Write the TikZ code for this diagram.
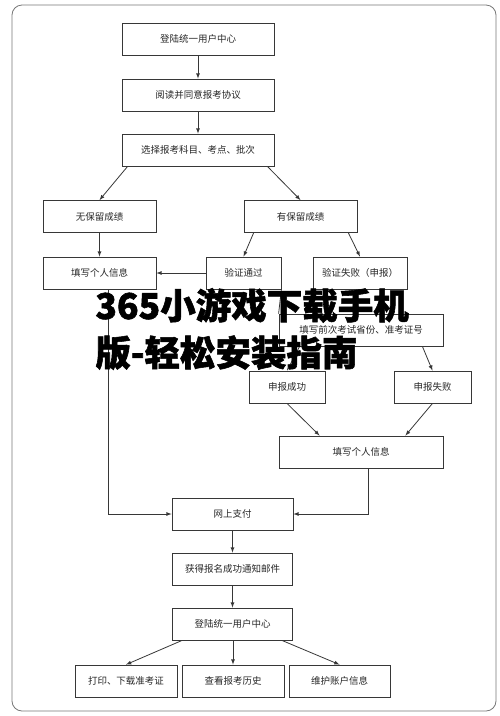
\documentclass[tikz,border=0pt]{standalone}
\usepackage{fontspec}
\usepackage{tikz}
\newfontfamily\cjk{Noto Sans CJK SC}
\newfontfamily\cjkfett[BoldFeatures={FakeBold=1.6}]{Noto Sans CJK SC}
\definecolor{liniengrau}{RGB}{55, 55, 55}
\definecolor{rahmengrau}{RGB}{120, 120, 120}
\tikzset{kasten/.style={draw=liniengrau, line width=0.8pt, minimum height=32, inner sep=0pt, text=black!85}}

\begin{document}
\begin{tikzpicture}[x=1pt, y=-1pt, >=latex, font=\cjk\fontsize{9.5}{11}\selectfont, line width=0.8pt]
				%Rahmen zeichnen
				\useasboundingbox (0,0) rectangle (500,716);
				\draw[rahmengrau, rounded corners=10pt] (12,5) rectangle (496,711);
				% Kaesten oben
				\node[kasten, minimum width=152] (login)   at (198,39)  {登陆统一用户中心};
				\node[kasten, minimum width=152] (lesen)   at (198,95)  {阅读并同意报考协议};
				\node[kasten, minimum width=152] (wahl)    at (198,150) {选择报考科目、考点、批次};
				\node[kasten, minimum width=113] (ohne)    at (99.5,216.5)  {无保留成绩};
				\node[kasten, minimum width=113] (mit)     at (300.5,216.5) {有保留成绩};
				% Kaesten Mitte
				\node[kasten, minimum width=113] (infol)   at (99.5,273) {填写个人信息};
				\node[kasten, minimum width=75]  (ok)      at (243.5,273) {验证通过};
				\node[kasten, minimum width=94]  (fehler)  at (360,273)  {验证失败（申报）};
				\node[kasten, minimum width=164] (vorher)  at (361,330)  {填写前次考试省份、准考证号};
				\node[kasten, minimum width=76]  (erfolg)  at (287,387)  {申报成功};
				\node[kasten, minimum width=77]  (misserf) at (432.5,387) {申报失败};
				\node[kasten, minimum width=164] (infor)   at (361,452)  {填写个人信息};
				% Kaesten unten
				\node[kasten, minimum width=121] (zahlen)  at (232.5,514) {网上支付};
				\node[kasten, minimum width=120] (mail)    at (232.5,569) {获得报名成功通知邮件};
				\node[kasten, minimum width=120] (login2)  at (232.5,624) {登陆统一用户中心};
				\node[kasten, minimum width=102] (druck)   at (126,681)   {打印、下载准考证};
				\node[kasten, minimum width=102] (hist)    at (233,681)   {查看报考历史};
				\node[kasten, minimum width=101] (konto)   at (339.5,681) {维护账户信息};
				%Pfeile zeichnen:
				\draw[->, liniengrau] (login) -- (lesen);
				\draw[->, liniengrau] (lesen) -- (wahl);
				\draw[->, liniengrau] ([xshift=6]wahl.south west) -- (ohne.north);
				\draw[->, liniengrau] ([xshift=-7]wahl.south east) -- (mit.north);
				\draw[->, liniengrau] (ohne) -- (infol);
				\draw[->, liniengrau] ([xshift=10]mit.south west) -- (ok.north);
				\draw[->, liniengrau] ([xshift=-9]mit.south east) -- (fehler.north);
				\draw[->, liniengrau] (ok.west) -- (infol.east);
				\draw[liniengrau] (ok.south east) -- (vorher.north west);
				\draw[->, liniengrau] ([xshift=21]vorher.south west) -- (erfolg.north);
				\draw[->, liniengrau] ([xshift=-21]vorher.south east) -- (misserf.north);
				\draw[->, liniengrau] (erfolg.south) -- ([xshift=41]infor.north west);
				\draw[->, liniengrau] (misserf.south) -- ([xshift=-38]infor.north east);
				\draw[->, liniengrau] ([xshift=8.5]infol.south) |- (zahlen.west);
				\draw[->, liniengrau] ([xshift=7]infor.south) |- (zahlen.east);
				\draw[->, liniengrau] (zahlen) -- (mail);
				\draw[->, liniengrau] (mail) -- (login2);
				\draw[->, liniengrau] ([xshift=10]login2.south west) -- (druck.north);
				\draw[->, liniengrau] (login2.south -| hist) -- (hist);
				\draw[->, liniengrau] ([xshift=-11]login2.south east) -- (konto.north);
				%Beschriftung
				\node[anchor=west, align=left, inner sep=0pt, font=\cjkfett\bfseries\fontsize{35.5}{47}\selectfont] (marke) at (95,329) {365小游戏下载手机\\版-轻松安装指南};
		\end{tikzpicture}
\end{document}
